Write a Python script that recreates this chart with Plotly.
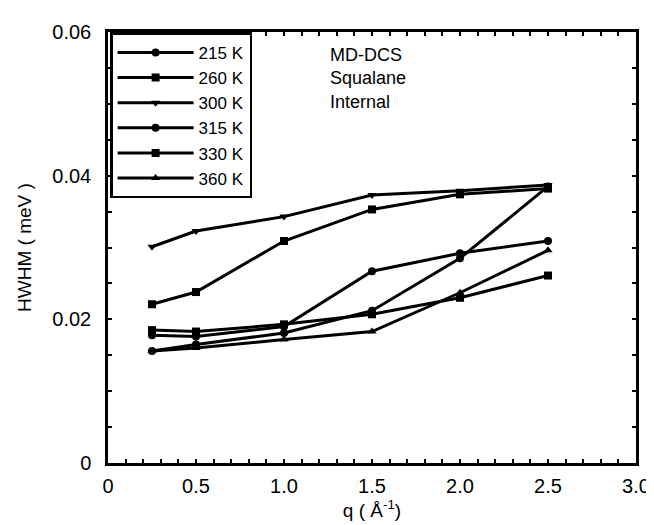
import plotly.graph_objects as go

q = [0.25, 0.5, 1.0, 1.5, 2.0, 2.5]
labels = ["215 K", "260 K", "300 K", "315 K", "330 K", "360 K"]
hwhm_215 = [0.0156, 0.0165, 0.0181, 0.0212, 0.0285, 0.0385]
hwhm_260 = [0.0221, 0.0238, 0.0309, 0.0353, 0.0374, 0.0382]
hwhm_300 = [0.0301, 0.0323, 0.0343, 0.0373, 0.0379, 0.0387]
hwhm_315 = [0.0178, 0.0176, 0.0190, 0.0267, 0.0292, 0.0309]
hwhm_330 = [0.0185, 0.0183, 0.0193, 0.0207, 0.0230, 0.0261]
hwhm_360 = [0.0156, 0.0160, 0.0172, 0.0183, 0.0237, 0.0296]
series = [hwhm_215, hwhm_260, hwhm_300, hwhm_315, hwhm_330, hwhm_360]
symbols = ["circle", "square", "triangle-down", "circle", "square", "triangle-up"]

FONT = "Liberation Sans, Arial, Helvetica, sans-serif"

fig = go.Figure()
for lab, ys, sym in zip(labels, series, symbols):
    fig.add_trace(go.Scatter(
        x=q, y=ys, name=lab, mode="lines+markers",
        line=dict(color="black", width=3),
        marker=dict(symbol=sym, size=8, color="black"),
    ))

fig.add_annotation(
    x=1.25, y=0.0585, xref="x", yref="y", xanchor="left", yanchor="top",
    text="MD-DCS<br>Squalane<br>Internal", showarrow=False, align="left",
    font=dict(family=FONT, size=18, color="black"),
)

axis_common = dict(
    showline=True, linecolor="black", linewidth=2.5, mirror="ticks",
    ticks="inside", ticklen=4, tickwidth=1.5, tickcolor="black",
    showgrid=False, zeroline=False,
    tickfont=dict(family=FONT, size=20, color="black"),
)

fig.update_layout(
    width=654, height=525,
    margin=dict(l=100, r=20, t=24, b=70),
    paper_bgcolor="white", plot_bgcolor="white",
    font=dict(family=FONT, color="black"),
    showlegend=True,
    legend=dict(
        x=0.004, y=0.999, xanchor="left", yanchor="top",
        bgcolor="white", bordercolor="black", borderwidth=2.5,
        font=dict(family=FONT, size=17, color="black"),
        tracegroupgap=0, itemwidth=76,
        entrywidth=70, entrywidthmode="pixels",
    ),
    xaxis=dict(
        range=[0, 3.0], tickvals=[0, 0.5, 1.0, 1.5, 2.0, 2.5, 3.0],
        ticktext=["0", "0.5", "1.0", "1.5", "2.0", "2.5", "3.0"],
        ticklabelstandoff=3,
        minor=dict(dtick=0.1, ticks="inside", ticklen=4, tickcolor="black", tickwidth=1.5),
        title=dict(text="q ( Å<sup>-1</sup>)", font=dict(family=FONT, size=19), standoff=4),
        **axis_common,
    ),
    yaxis=dict(
        range=[0, 0.06], tickvals=[0, 0.02, 0.04, 0.06],
        ticktext=["0", "0.02", "0.04", "0.06"],
        ticklabelstandoff=10,
        minor=dict(dtick=0.005, ticks="inside", ticklen=4, tickcolor="black", tickwidth=1.5),
        title=dict(text="HWHM ( meV )", font=dict(family=FONT, size=19), standoff=16),
        **axis_common,
    ),
)

fig.write_html("out.html")
